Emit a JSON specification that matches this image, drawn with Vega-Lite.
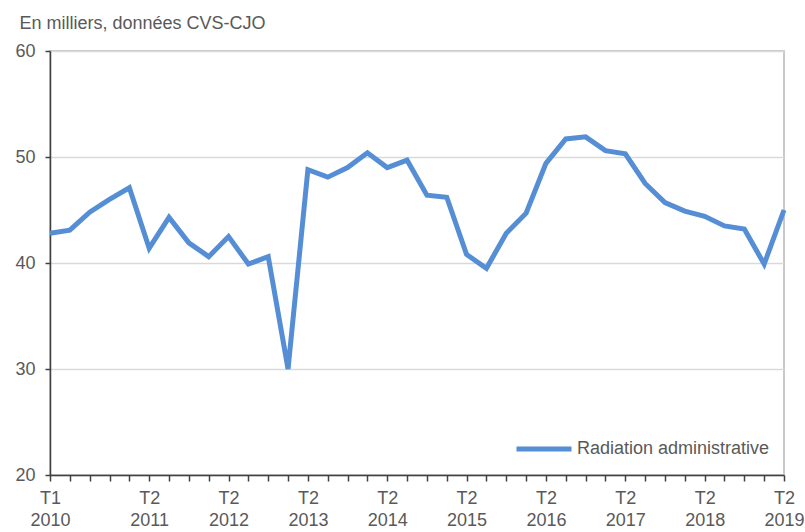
{
  "$schema": "https://vega.github.io/schema/vega-lite/v6.json",
  "width": 734,
  "height": 424,
  "autosize": {"type": "none"},
  "padding": {"left": 50, "top": 51, "right": 21, "bottom": 57},
  "background": "white",
  "config": {
    "view": {"stroke": "#c8c8c8", "strokeWidth": 2},
    "font": "Liberation Sans"
  },
  "data": {
    "values": [
      {"t": "T1 2010", "v": 42.8, "s": "Radiation administrative"},
      {"t": "T2 2010", "v": 43.1, "s": "Radiation administrative"},
      {"t": "T3 2010", "v": 44.8, "s": "Radiation administrative"},
      {"t": "T4 2010", "v": 46.0, "s": "Radiation administrative"},
      {"t": "T1 2011", "v": 47.1, "s": "Radiation administrative"},
      {"t": "T2 2011", "v": 41.4, "s": "Radiation administrative"},
      {"t": "T3 2011", "v": 44.3, "s": "Radiation administrative"},
      {"t": "T4 2011", "v": 41.9, "s": "Radiation administrative"},
      {"t": "T1 2012", "v": 40.6, "s": "Radiation administrative"},
      {"t": "T2 2012", "v": 42.5, "s": "Radiation administrative"},
      {"t": "T3 2012", "v": 39.9, "s": "Radiation administrative"},
      {"t": "T4 2012", "v": 40.6, "s": "Radiation administrative"},
      {"t": "T1 2013", "v": 30.0, "s": "Radiation administrative"},
      {"t": "T2 2013", "v": 48.8, "s": "Radiation administrative"},
      {"t": "T3 2013", "v": 48.1, "s": "Radiation administrative"},
      {"t": "T4 2013", "v": 49.0, "s": "Radiation administrative"},
      {"t": "T1 2014", "v": 50.4, "s": "Radiation administrative"},
      {"t": "T2 2014", "v": 49.0, "s": "Radiation administrative"},
      {"t": "T3 2014", "v": 49.7, "s": "Radiation administrative"},
      {"t": "T4 2014", "v": 46.4, "s": "Radiation administrative"},
      {"t": "T1 2015", "v": 46.2, "s": "Radiation administrative"},
      {"t": "T2 2015", "v": 40.8, "s": "Radiation administrative"},
      {"t": "T3 2015", "v": 39.5, "s": "Radiation administrative"},
      {"t": "T4 2015", "v": 42.8, "s": "Radiation administrative"},
      {"t": "T1 2016", "v": 44.7, "s": "Radiation administrative"},
      {"t": "T2 2016", "v": 49.4, "s": "Radiation administrative"},
      {"t": "T3 2016", "v": 51.7, "s": "Radiation administrative"},
      {"t": "T4 2016", "v": 51.9, "s": "Radiation administrative"},
      {"t": "T1 2017", "v": 50.6, "s": "Radiation administrative"},
      {"t": "T2 2017", "v": 50.3, "s": "Radiation administrative"},
      {"t": "T3 2017", "v": 47.5, "s": "Radiation administrative"},
      {"t": "T4 2017", "v": 45.7, "s": "Radiation administrative"},
      {"t": "T1 2018", "v": 44.9, "s": "Radiation administrative"},
      {"t": "T2 2018", "v": 44.4, "s": "Radiation administrative"},
      {"t": "T3 2018", "v": 43.5, "s": "Radiation administrative"},
      {"t": "T4 2018", "v": 43.2, "s": "Radiation administrative"},
      {"t": "T1 2019", "v": 39.9, "s": "Radiation administrative"},
      {"t": "T2 2019", "v": 45.0, "s": "Radiation administrative"}
    ]
  },
  "mark": {"type": "line", "strokeWidth": 5, "strokeJoin": "miter", "strokeCap": "butt"},
  "encoding": {
    "x": {
      "field": "t",
      "type": "ordinal",
      "sort": null,
      "scale": {"type": "point", "padding": 0},
      "axis": {
        "title": null,
        "labelAngle": 0,
        "labelExpr": "datum.value == 'T1 2010' || (substring(datum.value, 0, 2) == 'T2' && datum.value != 'T2 2010') ? split(datum.value, ' ') : ''",
        "labelFontSize": 18,
        "labelColor": "#595959",
        "labelLineHeight": 22,
        "labelPadding": 8,
        "labelOverlap": false,
        "labelFlush": false,
        "labelBound": false,
        "tickSize": 6,
        "tickColor": "#404040",
        "tickWidth": 1.5,
        "domainColor": "#404040",
        "domainWidth": 1.5,
        "grid": false
      }
    },
    "y": {
      "field": "v",
      "type": "quantitative",
      "scale": {"domain": [20, 60], "nice": false, "zero": false},
      "axis": {
        "values": [20, 30, 40, 50, 60],
        "title": "En milliers, données CVS-CJO",
        "titleAngle": 0,
        "titleX": -31,
        "titleY": -23,
        "titleAlign": "left",
        "titleBaseline": "alphabetic",
        "titleFontSize": 18,
        "titleFontWeight": "normal",
        "titleColor": "#595959",
        "labelFontSize": 18,
        "labelColor": "#595959",
        "labelPadding": 10,
        "tickSize": 5,
        "tickColor": "#404040",
        "tickWidth": 1.5,
        "domainColor": "#404040",
        "domainWidth": 1.5,
        "grid": true,
        "gridColor": "#d9d9d9",
        "gridWidth": 1.5
      }
    },
    "color": {
      "field": "s",
      "type": "nominal",
      "scale": {"range": ["#558ED5"]},
      "legend": {
        "title": null,
        "orient": "none",
        "legendX": 464,
        "legendY": 368,
        "padding": 0,
        "symbolType": "stroke",
        "symbolSize": 3025,
        "symbolStrokeWidth": 5,
        "labelFontSize": 18,
        "labelColor": "#595959",
        "labelOffset": 3,
        "labelLimit": 400
      }
    }
  }
}
